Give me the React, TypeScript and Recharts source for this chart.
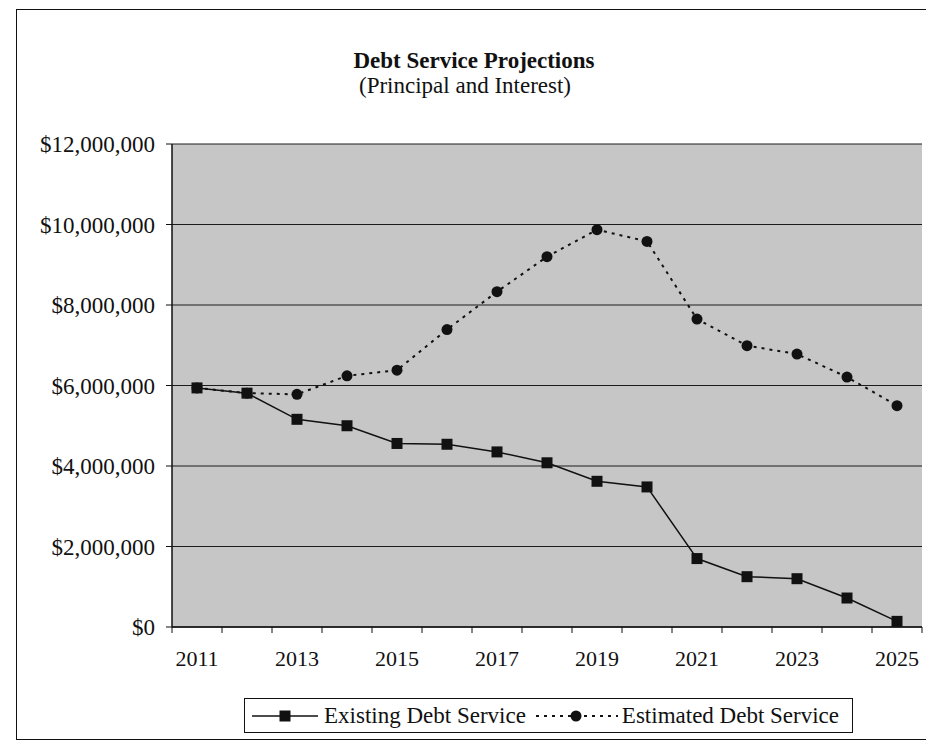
import { LineChart, Line, XAxis, YAxis, CartesianGrid } from "recharts";

// values in dollars
const years = [2011, 2012, 2013, 2014, 2015, 2016, 2017, 2018, 2019, 2020, 2021, 2022, 2023, 2024, 2025];
const existingDebt = [
  5940000, 5810000, 5160000, 5000000, 4560000, 4540000, 4350000, 4080000,
  3620000, 3480000, 1700000, 1250000, 1200000, 720000, 140000
];
const estimatedDebt = [
  5940000, 5810000, 5780000, 6240000, 6380000, 7390000, 8330000, 9200000,
  9870000, 9580000, 7650000, 6990000, 6780000, 6210000, 5500000
];
const yTicks = [0, 2000000, 4000000, 6000000, 8000000, 10000000, 12000000];
const labeledYears = [2011, 2013, 2015, 2017, 2019, 2021, 2023, 2025];

const W = 926;
const H = 744;
const PLOT_LEFT = 172;
const PLOT_RIGHT = 922;
const PLOT_TOP = 144;
const PLOT_BOTTOM = 627;
const X_AXIS_H = 40;
const TICK_SIZE = 6;
const X_TICK_MARGIN = 17;
const HALF_STEP = (PLOT_RIGHT - PLOT_LEFT) / years.length / 2;

const FONT = "'Liberation Serif', 'Times New Roman', serif";
const INK = "#111";

const data = years.map((year, i) => ({
  year,
  existing: existingDebt[i],
  estimated: estimatedDebt[i]
}));

const money = (v: number) => "$" + v.toLocaleString("en-US");

function YearTick(props: any) {
  const { x, y, payload } = props;
  const axisY = y - TICK_SIZE - X_TICK_MARGIN;
  const year = payload.value;
  const isLast = year === years[years.length - 1];
  return (
    <g>
      <line x1={x - HALF_STEP} y1={axisY} x2={x - HALF_STEP} y2={axisY + TICK_SIZE} stroke={INK} />
      {isLast && (
        <line x1={x + HALF_STEP} y1={axisY} x2={x + HALF_STEP} y2={axisY + TICK_SIZE} stroke={INK} />
      )}
      {labeledYears.includes(year) && (
        <text x={x} y={y} dy="0.71em" textAnchor="middle" fill={INK} fontSize={22} fontFamily={FONT}>
          {year}
        </text>
      )}
    </g>
  );
}

function SquareDot(props: any) {
  const { cx, cy, index } = props;
  if (cx == null || cy == null) return <g key={index} />;
  return <rect key={index} x={cx - 5.5} y={cy - 5.5} width={11} height={11} fill={INK} />;
}

function CircleDot(props: any) {
  const { cx, cy, index } = props;
  if (cx == null || cy == null) return <g key={index} />;
  return <circle key={index} cx={cx} cy={cy} r={5.5} fill={INK} />;
}

function LegendBox() {
  return (
    <div
      style={{
        position: "absolute",
        left: 244,
        top: 698,
        width: 609,
        height: 35,
        boxSizing: "border-box",
        border: `1px solid ${INK}`,
        background: "#fff",
        display: "flex",
        alignItems: "center",
        paddingLeft: 7,
        fontSize: 23,
        color: INK,
        whiteSpace: "nowrap"
      }}
    >
      <svg width={66} height={20}>
        <line x1={0} y1={10} x2={66} y2={10} stroke={INK} strokeWidth={1.5} />
        <rect x={27.5} y={4.5} width={11} height={11} fill={INK} />
      </svg>
      <span style={{ marginLeft: 6 }}>Existing Debt Service</span>
      <svg width={84} height={20} style={{ marginLeft: 8 }}>
        <line x1={2} y1={10} x2={84} y2={10} stroke={INK} strokeWidth={2} strokeDasharray="3 5" />
        <circle cx={42} cy={10} r={5.5} fill={INK} />
      </svg>
      <span style={{ marginLeft: 4 }}>Estimated Debt Service</span>
    </div>
  );
}

export default function App() {
  return (
    <div
      style={{
        position: "absolute",
        left: 0,
        top: 0,
        width: W,
        height: H,
        background: "#fff",
        fontFamily: FONT,
        color: INK,
        overflow: "hidden"
      }}
    >
      {/* page frame, its right edge runs off the scan */}
      <div
        style={{
          position: "absolute",
          left: 16,
          top: 9,
          width: W - 16,
          height: 731,
          boxSizing: "border-box",
          borderTop: `1px solid ${INK}`,
          borderLeft: `1px solid ${INK}`,
          borderBottom: `1px solid ${INK}`
        }}
      />
      <div
        style={{
          position: "absolute",
          left: 274,
          top: 49,
          width: 400,
          textAlign: "center",
          fontSize: 23,
          lineHeight: "23px",
          fontWeight: "bold"
        }}
      >
        Debt Service Projections
      </div>
      <div
        style={{
          position: "absolute",
          left: 265,
          top: 74,
          width: 400,
          textAlign: "center",
          fontSize: 23,
          lineHeight: "23px"
        }}
      >
        (Principal and Interest)
      </div>

      <div style={{ position: "absolute", left: 0, top: 0 }}>
        <LineChart
          width={W}
          height={H}
          data={data}
          margin={{ top: PLOT_TOP, right: W - PLOT_RIGHT, left: 0, bottom: H - PLOT_BOTTOM - X_AXIS_H }}
        >
          <CartesianGrid vertical={false} stroke="#1c1c1c" fill="#c6c6c6" fillOpacity={1} />
          <XAxis
            dataKey="year"
            type="number"
            domain={[years[0] - 0.5, years[years.length - 1] + 0.5]}
            ticks={years}
            interval={0}
            height={X_AXIS_H}
            tickLine={false}
            tickSize={TICK_SIZE}
            tickMargin={X_TICK_MARGIN}
            tick={<YearTick />}
            axisLine={{ stroke: INK, strokeWidth: 1.5 }}
          />
          <YAxis
            domain={[0, 12000000]}
            ticks={yTicks}
            width={PLOT_LEFT}
            tickFormatter={money}
            tickSize={TICK_SIZE}
            tickMargin={11}
            tick={{ fill: INK, fontSize: 23, fontFamily: FONT }}
            tickLine={{ stroke: INK }}
            axisLine={{ stroke: INK, strokeWidth: 1.5 }}
          />
          <Line
            type="linear"
            dataKey="estimated"
            stroke={INK}
            strokeWidth={2}
            strokeDasharray="3 5"
            dot={CircleDot}
            activeDot={false}
            isAnimationActive={false}
          />
          <Line
            type="linear"
            dataKey="existing"
            stroke={INK}
            strokeWidth={1.5}
            dot={SquareDot}
            activeDot={false}
            isAnimationActive={false}
          />
        </LineChart>
      </div>

      <LegendBox />
    </div>
  );
}
